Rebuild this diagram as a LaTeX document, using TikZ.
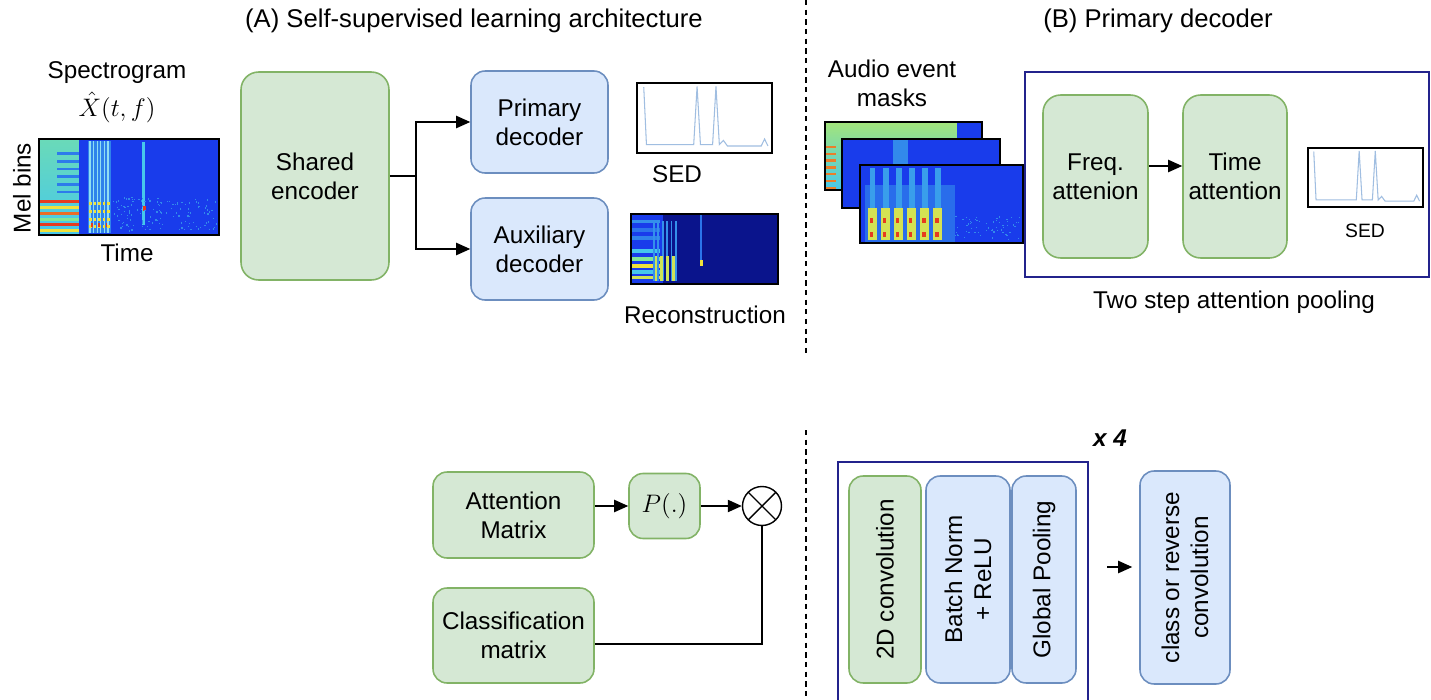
\documentclass[tikz,border=0pt]{standalone}
\usepackage{fontspec}
\setmainfont{Liberation Sans}
\usepackage{xcolor}
\usepackage{amsmath}
\usetikzlibrary{positioning,arrows.meta}

\definecolor{encgreen}{HTML}{D5E8D4}
\definecolor{encgreenline}{HTML}{82B366}
\definecolor{decblue}{HTML}{DAE8FC}
\definecolor{decblueline}{HTML}{6C8EBF}
\definecolor{framenavy}{RGB}{35,35,140}
\definecolor{jetblue}{RGB}{25,60,235}
\definecolor{jetnavy}{RGB}{10,20,140}
\definecolor{jetcyan}{RGB}{70,200,235}
\definecolor{jetgreen}{RGB}{130,230,150}
\definecolor{jetyellow}{RGB}{240,225,60}
\definecolor{jetred}{RGB}{230,60,30}
\definecolor{sedline}{RGB}{160,190,225}

\tikzset{
  txt/.style={font=\fontsize{13.8}{16.5}\selectfont, align=center, inner sep=1pt},
  greenbox/.style={rectangle, rounded corners=8pt, draw=encgreenline, fill=encgreen, line width=0.9pt, inner sep=0pt, txt},
  bluebox/.style={rectangle, rounded corners=8pt, draw=decblueline, fill=decblue, line width=0.9pt, inner sep=0pt, txt},
  flow/.style={-{Triangle[length=8pt,width=7pt]}, thick},
  frame/.style={draw=framenavy, line width=1.1pt},
  % spectrogram of the input clip
  melspec/.pic={
    \pgfmathsetseed{7}
    \fill[jetblue] (0,0) rectangle (1,1);
    \shade[top color=jetgreen!60!jetcyan, bottom color=jetcyan] (0,0) rectangle (0.22,1);
    \foreach \y in {0.14,0.22,0.3,0.38,0.46,0.54}
      \fill[jetblue!55!jetcyan] (0.1,\y) rectangle (0.22,\y+0.025);
    \foreach \y/\c in {0.64/jetred, 0.7/jetyellow, 0.76/jetred!70!jetyellow, 0.82/jetgreen, 0.88/jetred, 0.94/jetyellow}
      \fill[\c] (0,\y) rectangle (0.22,\y+0.03);
    \fill[jetcyan!50!jetblue] (0.27,0.02) rectangle (0.4,0.98);
    \foreach \x in {0.28,0.3,...,0.39}
      \fill[jetcyan!60!white] (\x,0.02) rectangle (\x+0.007,0.98);
    \foreach \x in {0.28,0.305,...,0.39}
      \foreach \y in {0.66,0.74,...,0.95}
        \fill[jetyellow] (\x,\y) rectangle (\x+0.012,\y+0.03);
    \foreach \x in {0.29,0.33,0.37}
      \fill[jetred] (\x,0.88) rectangle (\x+0.01,0.92);
    \fill[jetcyan] (0.575,0.03) rectangle (0.59,0.9);
    \fill[jetred] (0.577,0.7) rectangle (0.592,0.75);
    \foreach \i in {1,...,140}
      \fill[jetcyan!55!jetblue] ({0.41+0.58*rnd},{0.6+0.35*rnd}) rectangle ++(0.007,0.015);
    \draw[line width=1pt] (0,0) rectangle (1,1);
  },
  % decoder output spectrogram
  recon/.pic={
    \fill[jetnavy] (0,0) rectangle (1,1);
    \fill[jetblue] (0,0) rectangle (0.22,1);
    \foreach \y/\c in {0.08/jetcyan!60!jetblue, 0.2/jetcyan!40!jetblue, 0.32/jetcyan!50!jetblue, 0.5/jetcyan, 0.62/jetgreen, 0.72/jetyellow, 0.8/jetcyan, 0.88/jetyellow!70!jetgreen}
      \fill[\c] (0,\y) rectangle (0.2,\y+0.05);
    \foreach \x in {0.15,0.18,...,0.3}
      \fill[jetcyan!60!jetblue] (\x,0.1) rectangle (\x+0.012,0.95);
    \foreach \x in {0.16,0.2,...,0.3}
      \fill[jetyellow!70!jetgreen] (\x,0.6) rectangle (\x+0.018,0.95);
    \fill[jetblue!60!jetcyan] (0.47,0.02) rectangle (0.48,0.65);
    \fill[jetyellow] (0.468,0.66) rectangle (0.49,0.74);
    \draw[line width=1pt] (0,0) rectangle (1,1);
  },
  maskone/.pic={
    \fill[jetblue] (0,0) rectangle (1,1);
    \shade[top color=jetgreen!70!jetyellow, bottom color=jetcyan] (0,0) rectangle (0.84,1);
    \foreach \y in {0.35,0.45,...,0.96}
      \fill[jetred!60!jetyellow] (0,\y) rectangle (0.07,\y+0.035);
    \draw[line width=1.1pt] (0,0) rectangle (1,1);
  },
  masktwo/.pic={
    \fill[jetblue] (0,0) rectangle (1,1);
    \fill[jetcyan!55!jetblue] (0.32,0) rectangle (0.42,0.62);
    \draw[line width=1.1pt] (0,0) rectangle (1,1);
  },
  maskthree/.pic={
    \pgfmathsetseed{11}
    \fill[jetblue] (0,0) rectangle (1,1);
    \fill[jetcyan!35!jetblue] (0.03,0.25) rectangle (0.58,1);
    \foreach \x in {0.06,0.14,...,0.5} {
      \fill[jetcyan!70!jetblue] (\x,0.04) rectangle (\x+0.035,0.96);
      \fill[jetyellow!75!jetgreen] (\x-0.01,0.55) rectangle (\x+0.045,0.96);
      \fill[jetred] (\x,0.68) rectangle (\x+0.022,0.74);
      \fill[jetred] (\x,0.86) rectangle (\x+0.022,0.92);
    }
    \foreach \i in {1,...,60}
      \fill[jetcyan!55!jetblue] ({0.58+0.4*rnd},{0.65+0.3*rnd}) rectangle ++(0.008,0.015);
    \draw[line width=1.1pt] (0,0) rectangle (1,1);
  },
  % event activity curve
  sedplot/.pic={
    \fill[white] (0,0) rectangle (1,1);
    \draw[sedline, line width=0.6pt] (0.05,0.06) -- (0.07,0.88) -- (0.42,0.88) -- (0.445,0.05)
      -- (0.47,0.88) -- (0.56,0.88) -- (0.585,0.05) -- (0.61,0.88) -- (0.64,0.82) -- (0.67,0.9)
      -- (0.92,0.9) -- (0.945,0.8) -- (0.97,0.9);
    \draw[line width=1pt] (0,0) rectangle (1,1);
  }
}

\begin{document}
\begin{tikzpicture}[x=0.02cm, y=-0.02cm]
\useasboundingbox (0,0) rectangle (1431,700);

% section titles and separators
\node (titleA) [txt, font=\fontsize{14.6}{17}\selectfont] at (474,21) {(A) Self-supervised learning architecture};
\node (titleB) [txt, font=\fontsize{14.6}{17}\selectfont] at (1158,21) {(B) Primary decoder};
\draw[dash pattern=on 3pt off 2.5pt, line width=0.8pt] (806,0) -- (806,355);
\draw[dash pattern=on 3pt off 2.5pt, line width=0.8pt] (806,430) -- (806,700);

% (A) input
\node (spec) [txt, inner sep=0pt, font=\fontsize{13.8}{21.5}\selectfont] at (117,92) {Spectrogram\\{\fontsize{14.5}{21.5}\selectfont$\hat{X}(t,f)$}};
\pic[xscale=180, yscale=96] at (39,139) {melspec};
\node (melbins) [txt, rotate=90] at (22,188) {Mel bins};
\node (time) [txt] at (127,253) {Time};

% (A) encoder and decoders
\node (enc) [greenbox, rounded corners=10pt, minimum width=2.96cm, minimum height=4.16cm] at (315,176) {Shared\\encoder};
\node (prim) [bluebox, minimum width=2.74cm, minimum height=2.04cm] at (539.5,122) {Primary\\decoder};
\node (aux) [bluebox, minimum width=2.74cm, minimum height=2.04cm] at (539.5,249) {Auxiliary\\decoder};
\coordinate (branch) at (416,176);
\draw[thick] (enc.east) -- (branch);
\draw[flow] (branch) |- (prim.west);
\draw[flow] (branch) |- (aux.west);

% (A) outputs
\pic[xscale=135, yscale=70] at (637,83) {sedplot};
\node (sedA) [txt] at (677,174) {SED};
\pic[xscale=147, yscale=70] at (631,214) {recon};
\node (rec) [txt] at (705,315) {Reconstruction};

% (B) masks
\node (masks) [txt] at (892,83) {Audio event\\masks};
\pic[xscale=157, yscale=68] at (825,122) {maskone};
\pic[xscale=158, yscale=69] at (842,139) {masktwo};
\pic[xscale=163, yscale=78] at (860,165) {maskthree};

% (B) attention pooling
\draw[frame] (1025,72) rectangle (1429,277);
\node (freq) [greenbox, rounded corners=10pt, minimum width=2.1cm, minimum height=3.26cm] at (1095.5,176.5) {Freq.\\attenion};
\node (tatt) [greenbox, rounded corners=10pt, minimum width=2.08cm, minimum height=3.26cm] at (1235,176.5) {Time\\attention};
\draw[flow] (freq.east |- 0,166) -- (tatt.west |- 0,166);
\pic[xscale=115, yscale=59] at (1308,148) {sedplot};
\node (sedB) [txt, font=\fontsize{11}{13}\selectfont] at (1365,231) {SED};
\node (pool) [txt] at (1234,302) {Two step attention pooling};

% attention times classification
\node (attn) [greenbox, minimum width=3.22cm, minimum height=1.72cm] at (513.5,515) {Attention\\Matrix};
\node (pfun) [greenbox, minimum width=1.42cm, minimum height=1.3cm] at (664.5,506) {$P(.)$};
\node (mul) [circle, draw, thick, minimum size=0.78cm, inner sep=0pt,
  path picture={\draw[thick] (path picture bounding box.north west) -- (path picture bounding box.south east)
    (path picture bounding box.north east) -- (path picture bounding box.south west);}] at (762,506) {};
\node (clsm) [greenbox, minimum width=3.22cm, minimum height=1.9cm] at (513.5,635.5) {Classification\\matrix};
\draw[flow] (attn.east |- pfun.west) -- (pfun.west);
\draw[flow] (pfun.east) -- (mul.west);
\draw[thick] (clsm.east |- 0,644) -| (mul.south);

% conv block, repeated
\draw[frame] (838,702) -- (838,462) -- (1088,462) -- (1088,702);
\node (rep) [font=\fontsize{13.8}{16}\selectfont\bfseries\itshape] at (1110,438) {x 4};
\node (conv) [greenbox, rotate=90, minimum width=4.14cm, minimum height=1.44cm] at (885,579.5) {2D convolution};
\node (bnorm) [bluebox, rotate=90, minimum width=4.14cm, minimum height=1.68cm] at (968,579.5) {Batch Norm\\+ ReLU};
\node (gpool) [bluebox, rotate=90, minimum width=4.14cm, minimum height=1.28cm] at (1044,579.5) {Global Pooling};
\node (cls) [bluebox, rotate=90, minimum width=4.26cm, minimum height=1.8cm] at (1185,577.5) {class or reverse\\convolution};
\draw[flow] ([xshift=-0.64cm]cls.north |- 0,567) -- ([xshift=-0.14cm]cls.north |- 0,567);
\end{tikzpicture}
\end{document}
